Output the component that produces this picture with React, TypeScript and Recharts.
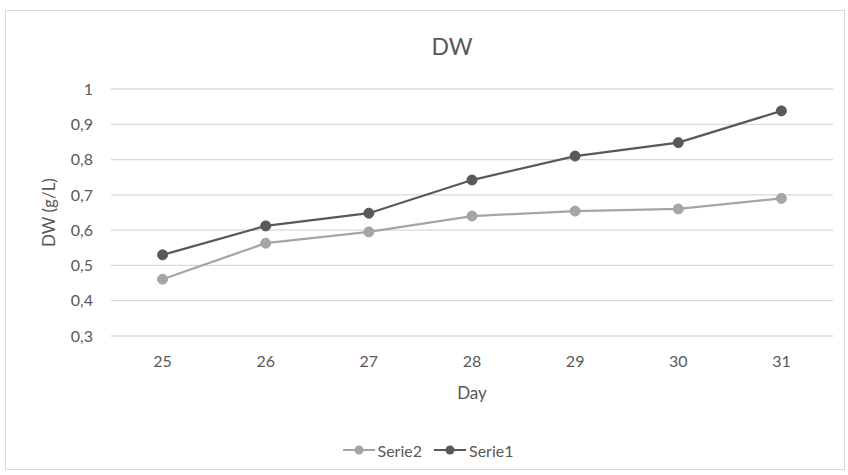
import { LineChart, Line, XAxis, YAxis, CartesianGrid, Legend } from "recharts"

const days = ["25", "26", "27", "28", "29", "30", "31"]
const serie1 = [0.53, 0.612, 0.648, 0.742, 0.81, 0.848, 0.938]
const serie2 = [0.461, 0.563, 0.595, 0.64, 0.654, 0.66, 0.69]
const yTicks = [0.3, 0.4, 0.5, 0.6, 0.7, 0.8, 0.9, 1]
const legendOrder = ["Serie2", "Serie1"]

const data = days.map((day, i) => ({
	day,
	Serie1: serie1[i],
	Serie2: serie2[i],
}))

const textColor = "#595959"
const font = "Lato, 'Open Sans', sans-serif"

const YLabel = (props: any) => {
	const vb = props.viewBox
	const cx = vb.x - 3
	const cy = vb.y + vb.height / 2
	return (
		<text
			x={cx}
			y={cy}
			transform={`rotate(-90, ${cx}, ${cy})`}
			textAnchor="middle"
			dominantBaseline="central"
			fill={textColor}
			fontSize={17}
			fontFamily={font}
		>
			DW (g/L)
		</text>
	)
}

const XLabel = (props: any) => {
	const vb = props.viewBox
	return (
		<text
			x={vb.x + vb.width / 2}
			y={vb.y + 63}
			textAnchor="middle"
			fill={textColor}
			fontSize={17}
			fontFamily={font}
		>
			Day
		</text>
	)
}

const LegendContent = (props: any) => {
	const items = [...(props.payload || [])].sort(
		(a: any, b: any) => legendOrder.indexOf(a.value) - legendOrder.indexOf(b.value)
	)
	return (
		<div
			style={{
				height: 20,
				display: "flex",
				justifyContent: "center",
				alignItems: "center",
				gap: 12,
				fontFamily: font,
				fontSize: 16,
				color: textColor,
			}}
		>
			{items.map((item: any) => (
				<div key={item.value} style={{ display: "flex", alignItems: "center" }}>
					<svg width={32} height={12} style={{ marginRight: 3 }}>
						<line x1={0} y1={6} x2={32} y2={6} stroke={item.color} strokeWidth={2} />
						<circle cx={16} cy={6} r={4.5} fill={item.color} />
					</svg>
					<span>{item.value}</span>
				</div>
			))}
		</div>
	)
}

const App = () => {
	return (
		<div
			style={{
				position: "absolute",
				left: 0,
				top: 0,
				width: 848,
				height: 475,
				background: "#fff",
			}}
		>
			<div
				style={{
					position: "absolute",
					left: 5,
					top: 10,
					width: 838,
					height: 458,
					border: "1px solid #d9d9d9",
				}}
			/>
			<div
				style={{
					position: "absolute",
					left: 352,
					width: 200,
					top: 32,
					textAlign: "center",
					fontFamily: font,
					fontSize: 23,
					color: textColor,
				}}
			>
				DW
			</div>
			<div style={{ position: "absolute", left: 0, top: 0 }}>
				<LineChart
					width={848}
					height={475}
					data={data}
					margin={{ top: 89, right: 15, bottom: 15, left: 51 }}
				>
					<CartesianGrid vertical={false} stroke="#d9d9d9" strokeWidth={1.3} />
					<XAxis
						dataKey="day"
						scale="band"
						height={104}
						axisLine={false}
						tickLine={false}
						tickMargin={14}
						tick={{ fill: textColor, fontSize: 16, fontFamily: font }}
						label={<XLabel />}
					/>
					<YAxis
						width={60}
						domain={[0.3, 1]}
						ticks={yTicks}
						axisLine={false}
						tickLine={false}
						tickMargin={12}
						tickFormatter={(v: number) => String(v).replace(".", ",")}
						tick={{ fill: textColor, fontSize: 16, fontFamily: font }}
						label={<YLabel />}
					/>
					<Legend
						verticalAlign="bottom"
						content={<LegendContent />}
						wrapperStyle={{ left: 0, width: 856 }}
					/>
					<Line
						dataKey="Serie2"
						stroke="#a5a5a5"
						strokeWidth={2.25}
						dot={{ r: 5, fill: "#a5a5a5", stroke: "#a5a5a5", strokeWidth: 1 }}
						isAnimationActive={false}
					/>
					<Line
						dataKey="Serie1"
						stroke="#595959"
						strokeWidth={2.25}
						dot={{ r: 5, fill: "#595959", stroke: "#595959", strokeWidth: 1 }}
						isAnimationActive={false}
					/>
				</LineChart>
			</div>
		</div>
	)
}

export default App
